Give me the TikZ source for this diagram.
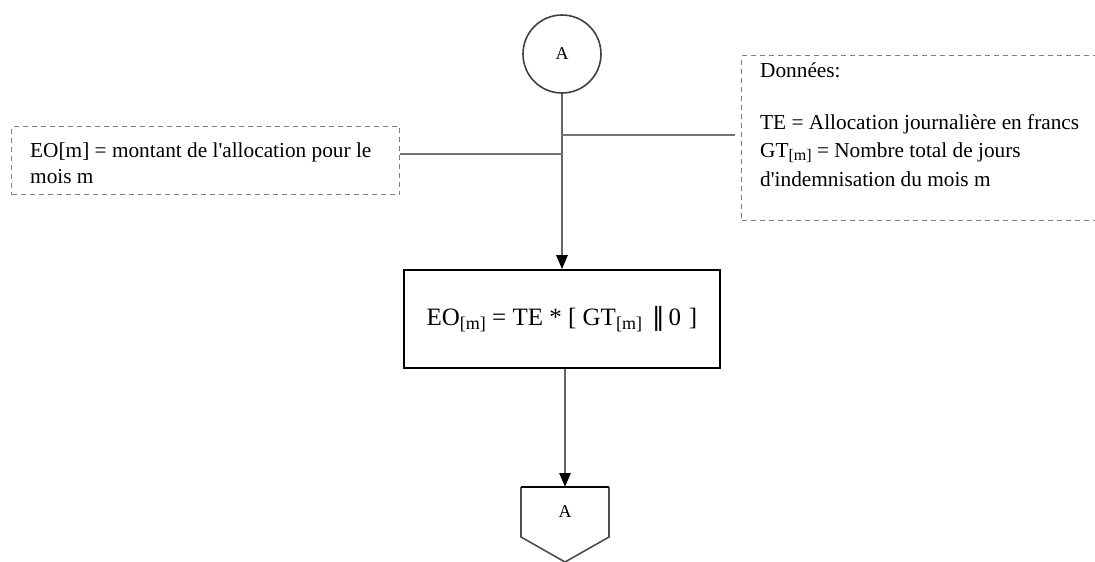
\documentclass[tikz,border=0pt]{standalone}
\usepackage{fontspec}
\setmainfont{Liberation Serif}
\newfontfamily\barfont{DejaVu Sans}
\usetikzlibrary{arrows.meta,calc}
\newcommand\subm[1]{\raisebox{-0.4ex}{\fontsize{18}{18}\selectfont #1}}
\newcommand\subs[1]{\raisebox{-0.4ex}{\fontsize{16}{16}\selectfont #1}}
\newcommand\apos{\XeTeXglyph\XeTeXcharglyph"0027\relax}
\begin{document}
\begin{tikzpicture}[x=1pt,y=-1pt,
  conn/.style={draw=black!55, line width=2pt},
  flow/.style={draw=black!60, line width=2.6pt, -{Triangle[color=black,length=14pt,width=11pt]}},
  dashbox/.style={draw=black!50, line width=1.3pt, dash pattern=on 5pt off 4pt, rectangle, inner sep=0pt},
  txt/.style={anchor=base west, inner sep=0pt, font=\fontsize{21.3}{26}\selectfont},
  conn circle/.style={circle, draw=black!75, line width=1.6pt, minimum size=78pt, inner sep=0pt, font=\fontsize{18}{18}\selectfont},
  procbox/.style={rectangle, draw=black, line width=1.6pt, minimum width=316pt, minimum height=98pt, inner sep=0pt, font=\fontsize{25}{30}\selectfont}]
\useasboundingbox (0,0) rectangle (1095,562);

% on-page connector
\node[conn circle] (A1) at (562,54) {A};

% process box
\node[procbox] (calc) at (562,319) {EO\subm{[m]} = TE * [ GT\subm{[m]}\hspace{10pt}{\barfont ‖}\hspace{4pt}0\hspace{8pt}]};

% left annotation
\node[dashbox, minimum width=388pt, minimum height=68pt, anchor=north west] (leftbox) at (11,126) {};
\node[txt] (l1) at (30,157) {EO[m] = montant de l\apos allocation pour le};
\node[txt] (l2) at (30,183) {mois m};

% right annotation
\node[dashbox, minimum width=370pt, minimum height=165pt, anchor=north west] (data) at (741,55) {};
\node[txt] (r0) at (760,77) {Données:};
\node[txt] (r1) at (760,129) {TE = Allocation journalière en francs};
\node[txt] (r2) at (760,157) {GT\subs{[m]} = Nombre total de jours};
\node[txt] (r3) at (760,186) {d\apos indemnisation du mois m};

% off-page connector
\node[inner sep=0pt, font=\fontsize{18}{18}\selectfont] (A2) at (565,512) {A};
\coordinate (A2top) at (565,487);
\draw[draw=black!70, line width=1.6pt] (521,487) -- (521,537) -- (565,562) -- (609,537) -- (609,487);
\draw[draw=black, line width=1.6pt] (521,487) -- (609,487);

% flow
\draw[flow] (A1.south) -- (calc.north);
\draw[flow] (A2top |- calc.south) -- (A2top);

% annotation links
\coordinate (jL) at (562,154);
\coordinate (jR) at (562,135);
\draw[conn] (leftbox.east |- jL) -- (jL);
\draw[conn] (jR) -- ($(data.west |- jR)+(-6,0)$);
\end{tikzpicture}
\end{document}
